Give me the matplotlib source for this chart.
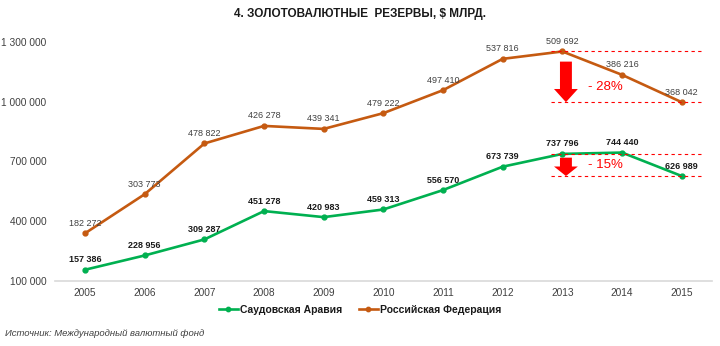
import matplotlib
matplotlib.use("Agg")
from matplotlib import pyplot as plt
from matplotlib.patches import Polygon

plt.rcParams['font.family'] = ['Liberation Sans', 'DejaVu Sans']

years = [2005, 2006, 2007, 2008, 2009, 2010, 2011, 2012, 2013, 2014, 2015]
saudi = [157386, 228956, 309287, 451278, 420983, 459313, 556570, 673739, 737796, 744440, 626989]
# положение оранжевой линии на графике (подписи взяты отдельно, как в оригинале)
russia_pos = [340000, 536000, 790000, 878000, 863000, 942000, 1057000, 1214000, 1251000, 1134000, 997000]
russia_labels = ['182 272', '303 773', '478 822', '426 278', '439 341', '479 222',
                 '497 410', '537 816', '509 692', '386 216', '368 042']
yticks = [100000, 400000, 700000, 1000000, 1300000]
changes = ['- 28%', '- 15%']

green = '#00B050'
orange = '#C55A11'
red = '#FF0000'

def fmt(v):
    return f'{v:,}'.replace(',', ' ')

fig = plt.figure(figsize=(7.2, 3.46), dpi=100)
ax = fig.add_axes([0.0767, 0.1873, 0.9115, 0.6922])

ax.plot(years, saudi, color=green, lw=1.9, marker='o', ms=3.5, label='Саудовская Аравия')
ax.plot(years, russia_pos, color=orange, lw=1.9, marker='o', ms=3.5, label='Российская Федерация')

for x, y, s in zip(years, russia_pos, russia_labels):
    ax.annotate(s, (x, y), xytext=(0, 7.2), textcoords='offset points',
                ha='center', va='center', fontsize=6.5, color='#404040')
for x, y in zip(years, saudi):
    ax.annotate(fmt(y), (x, y), xytext=(0, 7.2), textcoords='offset points',
                ha='center', va='center', fontsize=6.5, color='#1a1a1a', fontweight='bold')

# пунктирные уровни и стрелки падения
for top, bot, txt, f_top, f_head, f_txt in [
        (russia_pos[8], russia_pos[10], changes[0], 0.2, 0.74, 0.71),
        (saudi[8], saudi[10], changes[1], 0.17, 0.57, 0.5)]:
    d = top - bot
    for lvl in (top, bot):
        ax.plot([2012.81, 2015.34], [lvl, lvl], color=red, lw=0.8, ls=(0, (3, 3)))
    cx = 2013.06
    yt = top - f_top * d
    yh = top - f_head * d
    pts = [(cx - 0.1, yt), (cx + 0.1, yt), (cx + 0.1, yh), (cx + 0.2, yh),
           (cx, bot), (cx - 0.2, yh), (cx - 0.1, yh)]
    ax.add_patch(Polygon(pts, closed=True, color=red, lw=0))
    ax.text(2013.43, top - f_txt * d, txt, color=red, fontsize=9.5, ha='left', va='center')

ax.set_xlim(2004.5, 2015.5)
ax.set_ylim(100000, 1300000)
ax.set_xticks(years)
ax.set_xticklabels([str(y) for y in years])
ax.set_yticks(yticks)
ax.set_yticklabels([fmt(v) for v in yticks])
ax.tick_params(axis='both', length=0, labelsize=7.3, colors='#404040')
ax.tick_params(axis='y', pad=6.5)
ax.tick_params(axis='x', pad=5)
for s in ['top', 'right', 'left']:
    ax.spines[s].set_visible(False)
ax.spines['bottom'].set_color('#D9D9D9')
ax.spines['bottom'].set_linewidth(1.2)

fig.text(0.5, 1 - 14 / 346, '4. ЗОЛОТОВАЛЮТНЫЕ  РЕЗЕРВЫ, $ МЛРД.', ha='center', va='center',
         fontsize=8.5, fontweight='bold', color='#1a1a1a')

leg = fig.legend(loc='center', bbox_to_anchor=(0.5, 1 - 310 / 346), ncol=2, frameon=False,
                 prop={'size': 7.5, 'weight': 'bold'}, handlelength=1.85, handletextpad=0.2,
                 columnspacing=1.6, numpoints=1, markerscale=0.9)
for t in leg.get_texts():
    t.set_color('#1a1a1a')

fig.text(5 / 720, 1 - 334 / 346, 'Источник: Международный валютный фонд', ha='left', va='center',
         fontsize=6.8, style='italic', color='#404040')

plt.savefig('out.png', dpi=100)
